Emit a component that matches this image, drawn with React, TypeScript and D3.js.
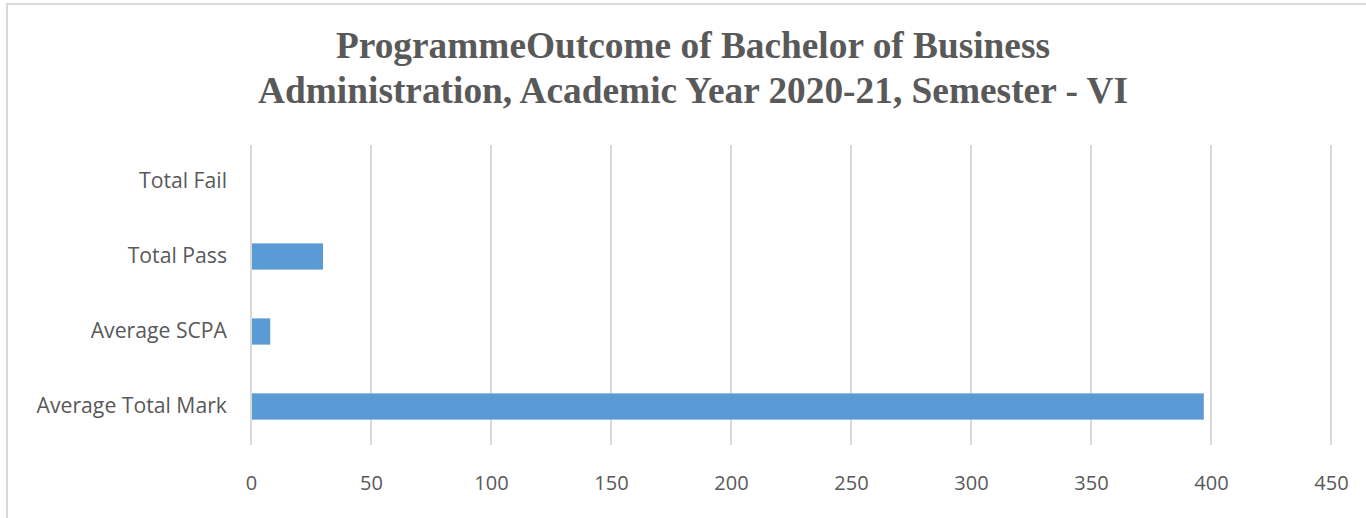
import React, { useEffect, useRef } from "react";
import * as d3 from "d3";

const categories = ["Average Total Mark", "Average SCPA", "Total Pass", "Total Fail"];
const values = [397, 8, 30, 0];
const xTicks = [0, 50, 100, 150, 200, 250, 300, 350, 400, 450];
const titleLines = [
  "ProgrammeOutcome of Bachelor of Business",
  "Administration, Academic Year 2020-21, Semester - VI",
];

export default function App() {
  const svgRef = useRef<SVGSVGElement>(null);

  useEffect(() => {
    if (!svgRef.current) return;
    const svg = d3.select(svgRef.current);
    svg.selectAll("*").remove();

    const width = 1366;
    const height = 518;
    const plot = { left: 251, right: 1331, top: 144, bottom: 444 };

    // chart frame
    svg
      .append("rect")
      .attr("x", 7)
      .attr("y", 4)
      .attr("width", width + 10)
      .attr("height", height + 10)
      .attr("fill", "#fff")
      .attr("stroke", "#d9d9d9")
      .attr("stroke-width", 2);

    // Title
    const titleWidths = [714, 870];
    const title = svg
      .append("text")
      .attr("text-anchor", "middle")
      .attr("fill", "#595959")
      .attr("font-family", "'Liberation Serif', 'Times New Roman', serif")
      .attr("font-weight", "bold")
      .attr("font-size", 37);
    titleLines.forEach((line, i) => {
      title
        .append("tspan")
        .attr("x", 693)
        .attr("y", 58 + i * 45)
        .attr("textLength", titleWidths[i])
        .attr("lengthAdjust", "spacingAndGlyphs")
        .text(line);
    });

    const x = d3.scaleLinear().domain([0, 450]).range([plot.left, plot.right]);
    const y = d3
      .scaleBand()
      .domain(categories)
      .range([plot.bottom, plot.top])
      .paddingInner(0.65)
      .paddingOuter(0.325);

    // gridlines
    svg
      .append("g")
      .selectAll("line")
      .data(xTicks)
      .join("line")
      .attr("x1", (d) => x(d))
      .attr("x2", (d) => x(d))
      .attr("y1", plot.top + 1)
      .attr("y2", plot.bottom + 1)
      .attr("stroke", "#d9d9d9")
      .attr("stroke-width", 2);

    // bars
    svg
      .append("g")
      .selectAll("rect")
      .data(categories)
      .join("rect")
      .attr("x", x(0) + 1)
      .attr("y", (d) => y(d) || 0)
      .attr("width", (_d, i) => Math.max(0, x(values[i]) - x(0) - 1))
      .attr("height", y.bandwidth())
      .attr("fill", "#5b9bd5");

    const labelFont = "'Open Sans', 'Noto Sans', sans-serif";

    // x axis labels
    const xAxis = d3.axisBottom(x).tickValues(xTicks).tickSize(0).tickPadding(32);
    const xg = svg.append("g").attr("transform", `translate(0,${plot.bottom})`).call(xAxis);
    xg.select(".domain").remove();
    xg.selectAll("text")
      .attr("fill", "#595959")
      .attr("font-family", labelFont)
      .attr("font-size", 20);

    // y axis labels
    const yAxis = d3.axisLeft(y).tickSize(0).tickPadding(24);
    const yg = svg.append("g").attr("transform", `translate(${plot.left},0)`).call(yAxis);
    yg.select(".domain").remove();
    yg.selectAll("text")
      .attr("fill", "#595959")
      .attr("font-family", labelFont)
      .attr("font-size", 21.2);
  }, []);

  return (
    <div style={{ position: "absolute", left: 0, top: 0, width: 1366, height: 518, overflow: "hidden" }}>
      <svg ref={svgRef} width={1366} height={518} viewBox="0 0 1366 518" />
    </div>
  );
}
